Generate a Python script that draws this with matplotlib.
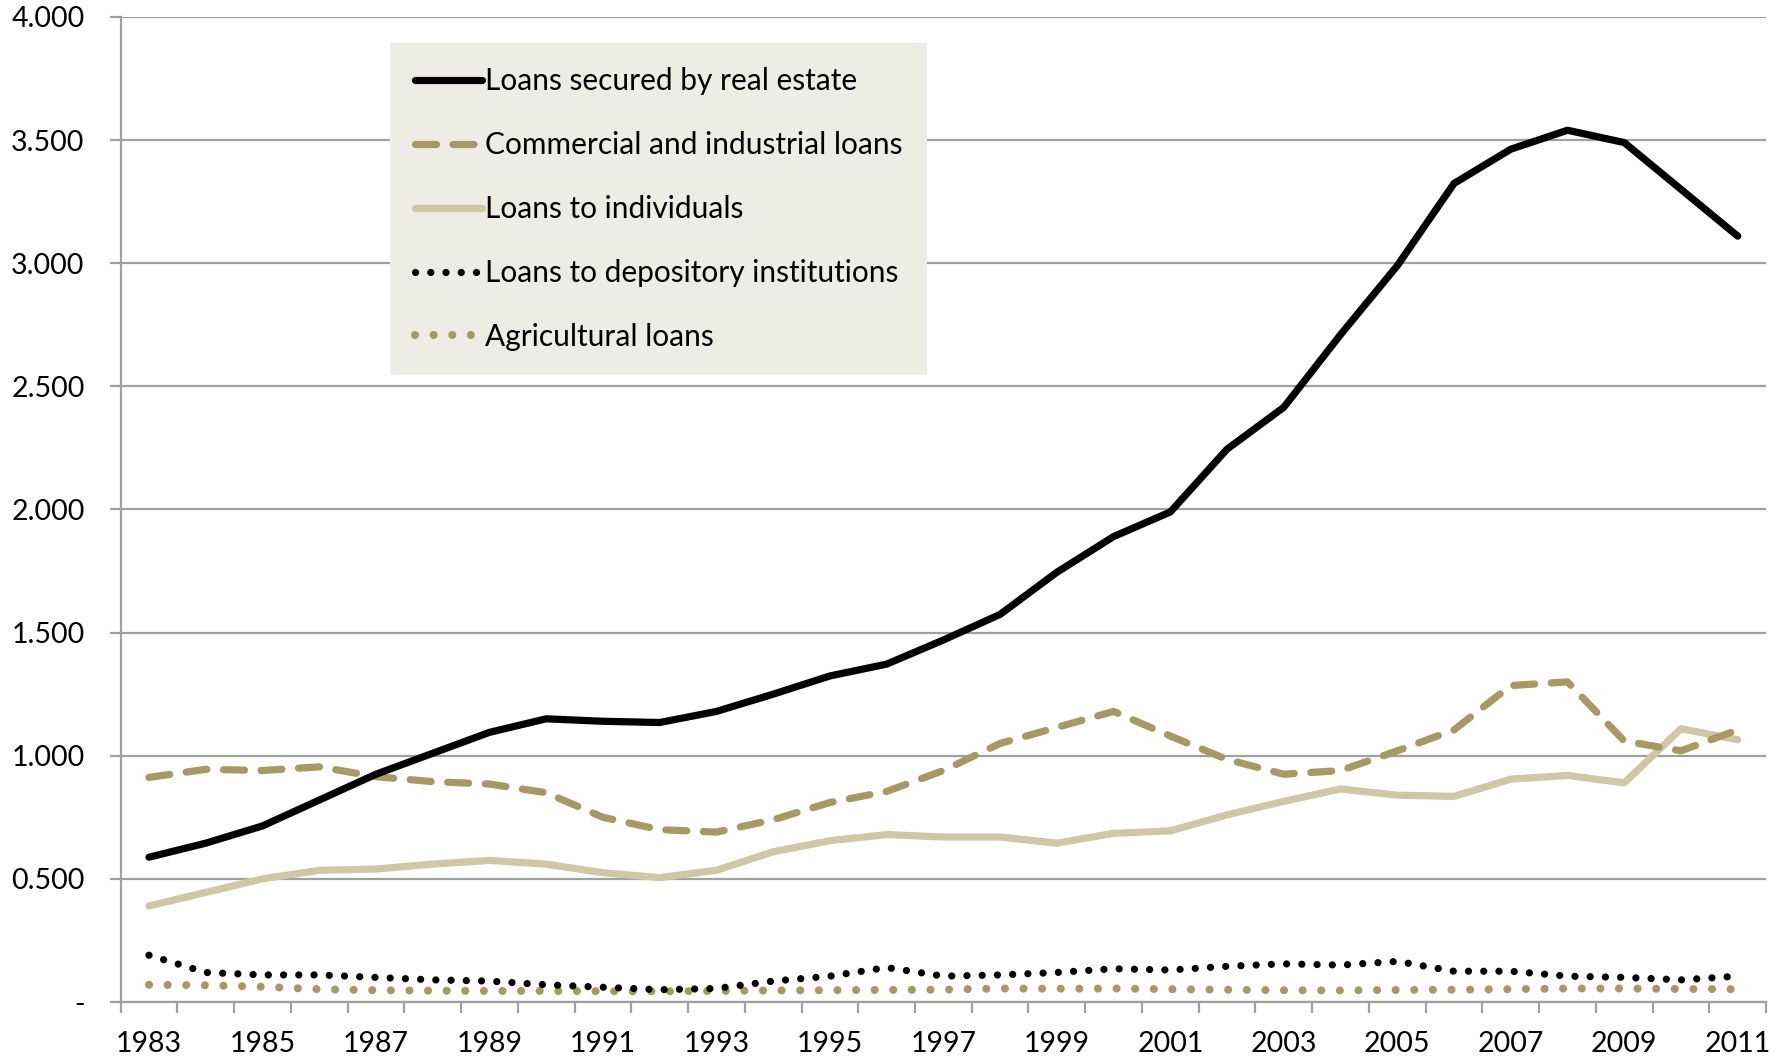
import matplotlib
matplotlib.use("Agg")
import matplotlib.pyplot as plt
from matplotlib.ticker import FixedLocator

years = list(range(1983, 2012))

real_estate = [0.588, 0.645, 0.715, 0.820, 0.925, 1.010, 1.095, 1.150, 1.140, 1.135,
               1.180, 1.250, 1.324, 1.372, 1.470, 1.574, 1.745, 1.890, 1.990, 2.245,
               2.415, 2.710, 2.990, 3.324, 3.463, 3.540, 3.490, 3.300, 3.110]

commercial = [0.912, 0.945, 0.940, 0.955, 0.915, 0.895, 0.885, 0.850, 0.750, 0.700,
              0.690, 0.740, 0.810, 0.855, 0.940, 1.050, 1.115, 1.180, 1.080, 0.985,
              0.925, 0.940, 1.020, 1.105, 1.285, 1.300, 1.060, 1.020, 1.105]

individuals = [0.390, 0.445, 0.500, 0.535, 0.540, 0.560, 0.575, 0.560, 0.525, 0.505,
               0.535, 0.610, 0.655, 0.680, 0.670, 0.670, 0.645, 0.685, 0.695, 0.760,
               0.815, 0.865, 0.840, 0.835, 0.905, 0.920, 0.890, 1.110, 1.065]

depository = [0.190, 0.120, 0.110, 0.110, 0.100, 0.090, 0.085, 0.070, 0.060, 0.050,
              0.055, 0.085, 0.105, 0.140, 0.105, 0.110, 0.120, 0.135, 0.130, 0.145,
              0.155, 0.150, 0.165, 0.125, 0.125, 0.105, 0.100, 0.090, 0.105]

agricultural = [0.070, 0.068, 0.062, 0.052, 0.048, 0.046, 0.045, 0.045, 0.044, 0.043,
                0.045, 0.047, 0.048, 0.049, 0.050, 0.055, 0.054, 0.055, 0.052, 0.050,
                0.048, 0.047, 0.049, 0.050, 0.052, 0.055, 0.055, 0.053, 0.052]

series_names = ["Loans secured by real estate", "Commercial and industrial loans",
                "Loans to individuals", "Loans to depository institutions",
                "Agricultural loans"]

y_ticks = [0, 0.5, 1.0, 1.5, 2.0, 2.5, 3.0, 3.5, 4.0]
y_tick_labels = ["-", "0.500", "1.000", "1.500", "2.000", "2.500", "3.000", "3.500", "4.000"]

plt.rcParams["font.family"] = ["Lato", "DejaVu Sans"]

TAN = "#A69966"
LIGHT_TAN = "#CFC8A6"
GRID = "#A0A0A0"

fig = plt.figure(figsize=(17.87, 10.60), dpi=100)
ax = fig.add_axes([0.0675, 0.0547, 0.9208, 0.9293])

x = list(range(len(years)))

ax.plot(x, real_estate, color="black", lw=5.2, solid_capstyle="round",
        solid_joinstyle="round", label=series_names[0], zorder=5)
ax.plot(x, commercial, color=TAN, lw=5.2, dashes=(2.9, 2.3), dash_capstyle="round",
        label=series_names[1], zorder=4)
ax.plot(x, individuals, color=LIGHT_TAN, lw=5.2, solid_capstyle="round",
        label=series_names[2], zorder=3)
ax.plot(x, depository, color="black", lw=5.2, dashes=(0.01, 2.1), dash_capstyle="round",
        label=series_names[3], zorder=4)
ax.plot(x, agricultural, color=TAN, lw=5.8, dashes=(0.01, 2.3), dash_capstyle="round",
        label=series_names[4], zorder=3)

ax.set_xlim(-0.5, len(years) - 0.5)
ax.set_ylim(0, 4.0)

# y axis
ax.set_yticks(y_ticks)
ax.set_yticklabels(y_tick_labels)
ax.yaxis.grid(True, color=GRID, lw=1.6)
ax.set_axisbelow(True)

# x axis: ticks at category boundaries, labels every other year
ax.xaxis.set_major_locator(FixedLocator(x[::2]))
ax.set_xticklabels([str(y) for y in years[::2]])
ax.xaxis.set_minor_locator(FixedLocator([i - 0.5 for i in range(len(years) + 1)]))
ax.tick_params(axis="x", which="major", length=0, pad=21, labelsize=20.5)
ax.tick_params(axis="x", which="minor", length=8, width=1.6, color=GRID)
ax.tick_params(axis="y", which="major", length=8, width=1.6, color=GRID, pad=18, labelsize=20.5)

for side in ("top", "right"):
    ax.spines[side].set_visible(False)
for side in ("left", "bottom"):
    ax.spines[side].set_color(GRID)
    ax.spines[side].set_linewidth(1.6)

leg = ax.legend(loc="upper left", bbox_to_anchor=(0.164, 0.9736), fontsize=21.5,
                frameon=True, fancybox=False, borderaxespad=0, borderpad=0.82,
                handlelength=2.25, handletextpad=0.1, labelspacing=1.2)
leg.get_frame().set_facecolor("#EEEDE5")
leg.get_frame().set_edgecolor("none")
leg.get_frame().set_alpha(1)

fig.savefig("out.png", dpi=100)
